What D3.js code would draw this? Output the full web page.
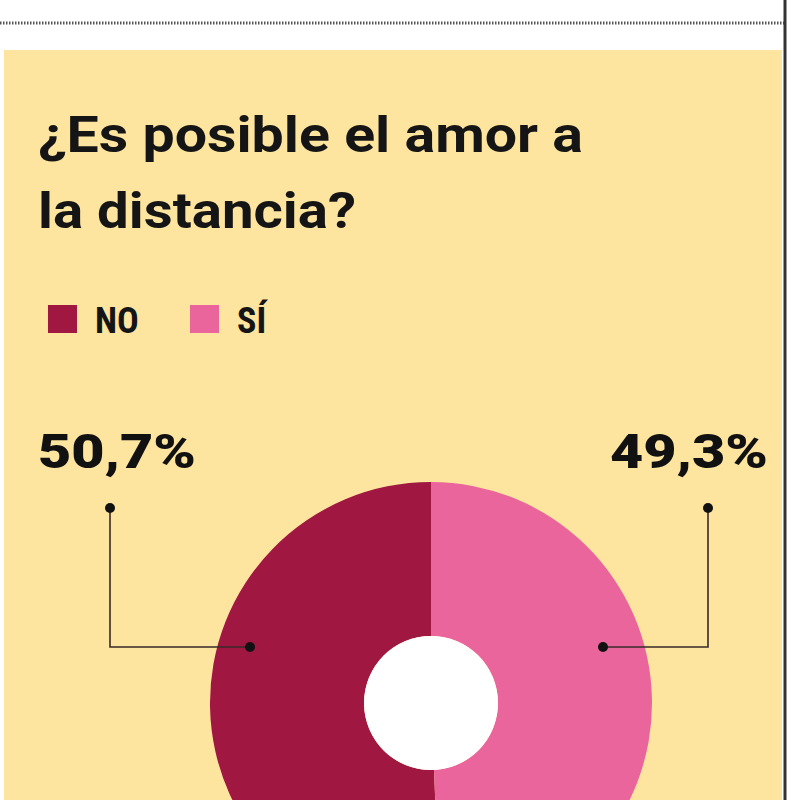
<!DOCTYPE html>
<html><head><meta charset="utf-8">
<script src="https://cdn.jsdelivr.net/npm/d3@7"></script>
<style>body{margin:0;background:#fff}</style></head>
<body><svg id="c" width="800" height="800"></svg>
<script>
const titleLines = ["¿Es posible el amor a", "la distancia?"];
const categories = ["NO", "SÍ"];
const values = [50.7, 49.3];
const labels = ["50,7%", "49,3%"];
const colors = ["#A01742", "#EA659B"];

const svg = d3.select("#c");
svg.append("rect").attr("x",0).attr("y",0).attr("width",800).attr("height",800).attr("fill","#fff");
svg.append("line").attr("x1",0).attr("x2",784).attr("y1",23).attr("y2",23)
  .attr("stroke","#555").attr("stroke-width",3).attr("stroke-dasharray","1.5,1.5");
svg.append("rect").attr("x",4).attr("y",50).attr("width",778).attr("height",750).attr("fill","#FDE59F");
svg.append("line").attr("x1",785).attr("x2",785).attr("y1",0).attr("y2",800).attr("stroke","#333").attr("stroke-width",3);

const tf = "Roboto, 'Liberation Sans', sans-serif";
const titleLens = [545, 318];
titleLines.forEach((t,i)=>{
  svg.append("text").attr("x",38).attr("y",152+i*76).text(t)
    .attr("textLength",titleLens[i]).attr("lengthAdjust","spacingAndGlyphs")
    .attr("font-family",tf).attr("font-weight","bold").attr("font-size",50).attr("fill","#151515");
});

// legend
const lx = [48, 190];
categories.forEach((c,i)=>{
  svg.append("rect").attr("x",lx[i]).attr("y",305).attr("width",29).attr("height",28).attr("fill",colors[i]);
  svg.append("text").attr("x",lx[i]+47).attr("y",333).text(c)
    .attr("font-family","'Liberation Sans Narrow', 'Roboto Condensed', sans-serif").attr("font-weight","bold")
    .attr("font-size",36).attr("fill","#151515");
});

// donut
const cx = 431, cy = 703, R = 221, r = 67;
const total = d3.sum(values);
const start = -2*Math.PI*values[0]/total;
const pie = d3.pie().sort(null).startAngle(start).endAngle(start+2*Math.PI);
const arc = d3.arc().innerRadius(r).outerRadius(R);
const g = svg.append("g").attr("transform",`translate(${cx},${cy})`);
g.selectAll("path").data(pie(values)).join("path").attr("d",arc).attr("fill",(d,i)=>colors[i]);
g.append("circle").attr("r",r).attr("fill","#fff");

// leaders and labels
const leaders = [
  {top:[110,508], end:[250,647]},
  {top:[708,508], end:[603,647]}
];
leaders.forEach(L=>{
  svg.append("path").attr("d",`M${L.top[0]},${L.top[1]}V${L.end[1]}H${L.end[0]}`)
    .attr("fill","none").attr("stroke","#3a2a2a").attr("stroke-width",1.6);
  [L.top,L.end].forEach(p=>svg.append("circle").attr("cx",p[0]).attr("cy",p[1]).attr("r",5).attr("fill","#111"));
});
svg.append("text").attr("x",38).attr("y",468).text(labels[0])
  .attr("textLength",158).attr("lengthAdjust","spacingAndGlyphs")
  .attr("font-family",tf).attr("font-weight",900).attr("font-size",48).attr("fill","#111");
svg.append("text").attr("x",610).attr("y",468).text(labels[1])
  .attr("textLength",158).attr("lengthAdjust","spacingAndGlyphs")
  .attr("font-family",tf).attr("font-weight",900).attr("font-size",48).attr("fill","#111");
</script></body></html>
